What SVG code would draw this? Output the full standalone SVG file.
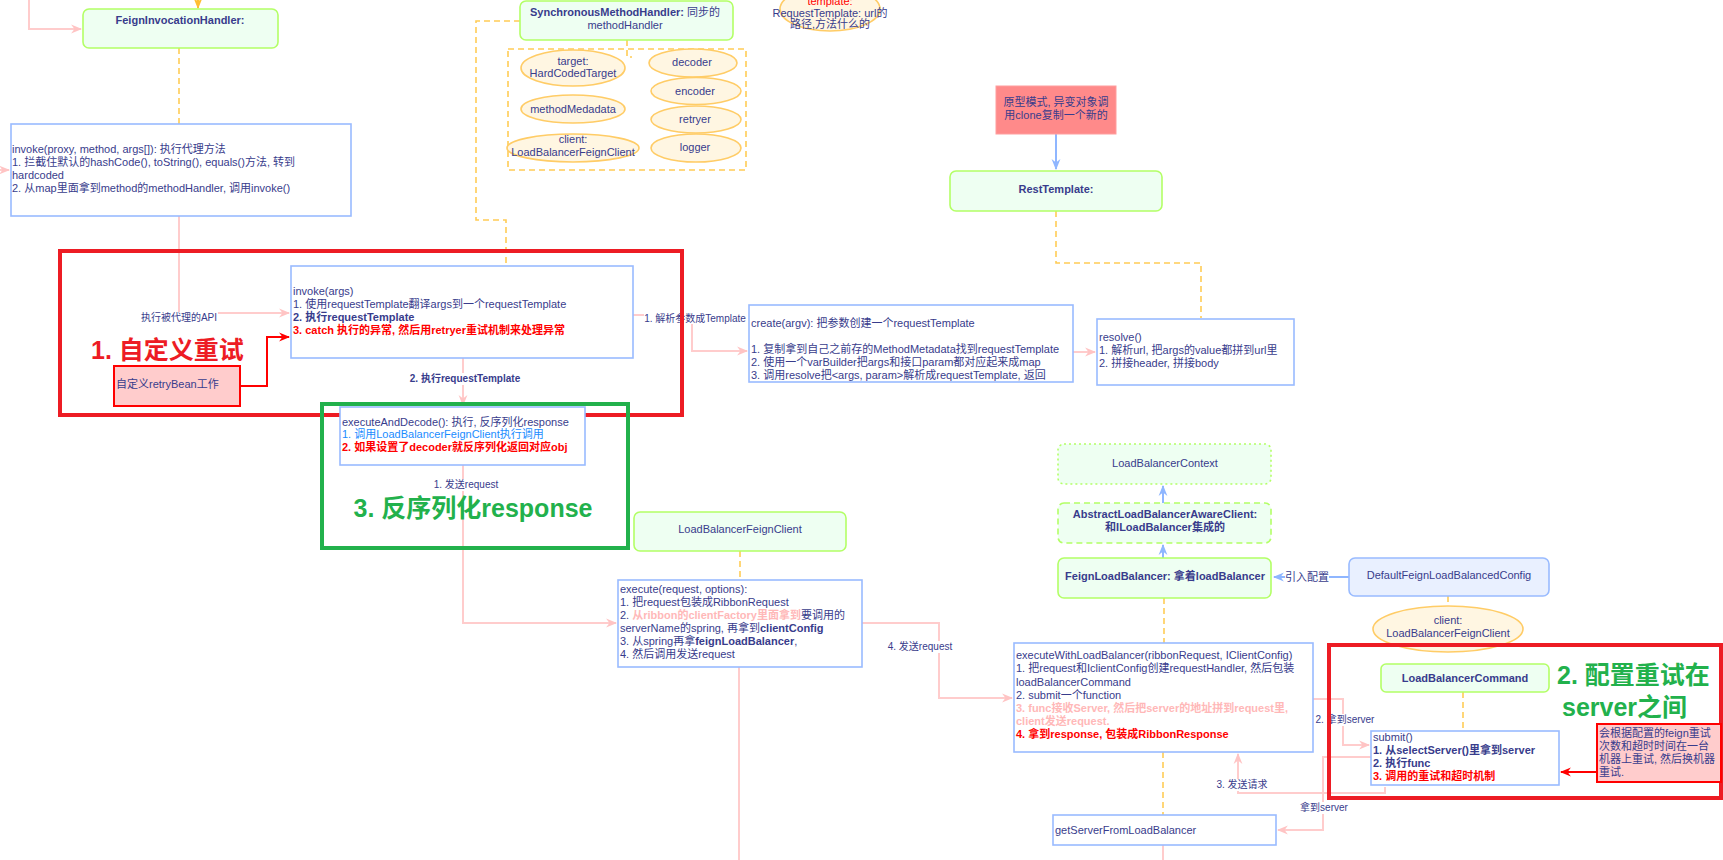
<svg xmlns="http://www.w3.org/2000/svg" width="1723" height="860" viewBox="0 0 1723 860">
<defs>
<marker id="mp" viewBox="0 0 10 10" refX="9" refY="5" markerWidth="11" markerHeight="11" markerUnits="userSpaceOnUse" orient="auto"><path d="M0,1 L10,5 L0,9 L3,5 z" fill="#FFC4C4"/></marker>
<marker id="mb" viewBox="0 0 10 10" refX="9" refY="5" markerWidth="11" markerHeight="11" markerUnits="userSpaceOnUse" orient="auto"><path d="M0,1 L10,5 L0,9 L3,5 z" fill="#8FB6FF"/></marker>
<marker id="mr" viewBox="0 0 10 10" refX="9" refY="5" markerWidth="11" markerHeight="11" markerUnits="userSpaceOnUse" orient="auto"><path d="M0,1 L10,5 L0,9 L3,5 z" fill="#FF0000"/></marker>
<marker id="mo" viewBox="0 0 10 10" refX="9" refY="5" markerWidth="11" markerHeight="11" markerUnits="userSpaceOnUse" orient="auto"><path d="M0,1 L10,5 L0,9 L3,5 z" fill="#FFBF33"/></marker>
</defs>
<style>
text{font-family:"Liberation Sans","Noto Sans CJK SC",sans-serif;font-size:11px;fill:#383C8C}
.b{font-weight:bold}
.red{fill:#FF0000}
.c{text-anchor:middle}
.lbl{font-size:10px}
.big{font-size:25px;font-weight:bold}
.gn{fill:#EEFFF2;stroke:#B3FF66;stroke-width:1.6}
.bl{fill:#FFFFFF;stroke:#99BBFF;stroke-width:1.6}
.el{fill:#FFF6E2;stroke:#FFCC66;stroke-width:1.6}
.dsh{fill:none;stroke:#FFCC55;stroke-width:1.6;stroke-dasharray:6 4}
.pk{fill:none;stroke:#FFCCCC;stroke-width:2}
.bw{fill:none;stroke:#8FB6FF;stroke-width:2}
.wb{fill:#FFFFFF}
.pinkb{fill:#FFB8B8;font-weight:bold}
</style>

<g id="connectors">
<path class="pk" d="M29,0 V29 H81" marker-end="url(#mp)"/>
<path class="pk" d="M0,170 H9" marker-end="url(#mp)"/>
<path d="M198,0 V8" fill="none" stroke="#FFBF33" stroke-width="2" marker-end="url(#mo)"/>
<path class="dsh" d="M179,48 V124"/>
<path class="dsh" d="M520,21 H476 V220 H506 V266"/>
<path class="dsh" d="M627,40 V57 H632"/>
<path class="pk" d="M179,216 V313 H289" marker-end="url(#mp)"/>
<rect class="wb" x="140" y="312" width="78" height="12"/>
<text class="lbl c" x="179" y="321">执行被代理的API</text>
<path d="M240,386 H267 V337 H289" fill="none" stroke="#FF0000" stroke-width="2" marker-end="url(#mr)"/>
<path class="pk" d="M633,315 H692 V351 H747" marker-end="url(#mp)"/>
<rect class="wb" x="644" y="312" width="103" height="12"/>
<text class="lbl c" x="695" y="322">1. 解析参数成Template</text>
<path class="pk" d="M1073,352 H1095" marker-end="url(#mp)"/>
<path class="bw" d="M1056,134 V169" marker-end="url(#mb)"/>
<path class="dsh" d="M1056,211 V263 H1201 V318"/>
<path class="pk" d="M463,358 V405" marker-end="url(#mp)"/>
<rect class="wb" x="410" y="373" width="111" height="12"/>
<text class="lbl b c" x="465" y="382">2. 执行requestTemplate</text>
<path class="pk" d="M463,465 V623 H616" marker-end="url(#mp)"/>
<rect class="wb" x="433" y="479" width="66" height="12"/>
<text class="lbl c" x="466" y="488">1. 发送request</text>
<path class="dsh" d="M740,551 V580"/>
<path class="pk" d="M739,667 V860"/>
<path class="pk" d="M862,623 H939 V698 H1012" marker-end="url(#mp)"/>
<rect class="wb" x="888" y="641" width="65" height="12"/>
<text class="lbl c" x="920" y="650">4. 发送request</text>
<path class="bw" d="M1163,503 V486" marker-end="url(#mb)"/>
<path class="bw" d="M1163,558 V545" marker-end="url(#mb)"/>
<path class="bw" d="M1349,577 H1274" marker-end="url(#mb)"/>
<rect class="wb" x="1285" y="571" width="44" height="13"/>
<text class="c" x="1307" y="581">引入配置</text>
<path class="dsh" d="M1448,596 V606"/>
<path class="dsh" d="M1164,598 V643"/>
<path class="dsh" d="M1163,752 V815"/>
<path class="pk" d="M1163,845 V860"/>
<path class="dsh" d="M1463,692 V731"/>
<path class="pk" d="M1313,699 H1343 V745 H1369" marker-end="url(#mp)"/>
<rect class="wb" x="1316" y="714" width="59" height="12"/>
<text class="lbl c" x="1345" y="723">2. 拿到server</text>
<path class="pk" d="M1385,787 V793 H1238 V754" marker-end="url(#mp)"/>
<rect class="wb" x="1216" y="779" width="52" height="12"/>
<text class="lbl c" x="1242" y="788">3. 发送请求</text>
<path class="pk" d="M1371,757 H1323 V830 H1278" marker-end="url(#mp)"/>
<rect class="wb" x="1300" y="802" width="48" height="12"/>
<text class="lbl c" x="1324" y="811">拿到server</text>
<path d="M1597,772 H1561" fill="none" stroke="#FF0000" stroke-width="2" marker-end="url(#mr)"/>
</g>

<g id="feignInvocationHandler">
<rect class="gn" x="83" y="9" width="195" height="39" rx="6"/>
<text class="b c" x="180" y="24">FeignInvocationHandler:</text>
</g>

<g id="invokeProxy">
<rect class="bl" x="11" y="124" width="340" height="92"/>
<text x="12" y="153">invoke(proxy, method, args[]): 执行代理方法</text>
<text x="12" y="166">1. 拦截住默认的hashCode(), toString(), equals()方法, 转到</text>
<text x="12" y="179">hardcoded</text>
<text x="12" y="192">2. 从map里面拿到method的methodHandler, 调用invoke()</text>
</g>

<g id="syncMethodHandler">
<rect class="gn" x="520" y="1" width="213" height="39" rx="6"/>
<text class="c" x="625" y="16"><tspan class="b">SynchronousMethodHandler:</tspan> 同步的</text>
<text class="c" x="625" y="29">methodHandler</text>
</g>

<g id="handlerFields">
<rect class="dsh" x="508" y="49" width="238" height="121"/>
<ellipse class="el" cx="573" cy="68" rx="52" ry="18"/>
<text class="c" x="573" y="65">target:</text>
<text class="c" x="573" y="77">HardCodedTarget</text>
<ellipse class="el" cx="573" cy="109" rx="52" ry="14"/>
<text class="c" x="573" y="113">methodMedadata</text>
<ellipse class="el" cx="573" cy="148" rx="66" ry="14"/>
<text class="c" x="573" y="143">client:</text>
<text class="c" x="573" y="156">LoadBalancerFeignClient</text>
<ellipse class="el" cx="693" cy="63" rx="44" ry="14"/>
<text class="c" x="692" y="66">decoder</text>
<ellipse class="el" cx="696" cy="91" rx="45" ry="13.5"/>
<text class="c" x="695" y="95">encoder</text>
<ellipse class="el" cx="696" cy="119.5" rx="45" ry="13.5"/>
<text class="c" x="695" y="123">retryer</text>
<ellipse class="el" cx="696" cy="148" rx="45" ry="14"/>
<text class="c" x="695" y="151">logger</text>
</g>

<g id="templateNote">
<ellipse class="el" cx="830" cy="9" rx="50" ry="22"/>
<text class="c red" x="830" y="5">template:</text>
<text class="c" x="830" y="17">RequestTemplate: url的</text>
<text class="c" x="830" y="28">路径,方法什么的</text>
</g>

<g id="prototypeNote">
<rect x="996" y="86" width="120" height="48" fill="#FF8A8A" stroke="#FF9E9E" stroke-width="1"/>
<text class="c" x="1056" y="106">原型模式, 异变对象调</text>
<text class="c" x="1056" y="119">用clone复制一个新的</text>
</g>

<g id="restTemplate">
<rect class="gn" x="950" y="171" width="212" height="40" rx="6"/>
<text class="b c" x="1056" y="193">RestTemplate:</text>
</g>

<g id="retryFrame">
<rect x="60" y="251" width="622" height="164" fill="none" stroke="#ED1C24" stroke-width="4"/>
<text class="big" x="91" y="359" style="fill:#ED1C24">1. 自定义重试</text>
</g>

<g id="customRetryBean">
<rect x="114" y="366" width="126" height="40" fill="#FFCCCC" stroke="#FF0000" stroke-width="2"/>
<text x="116" y="388">自定义retryBean工作</text>
</g>

<g id="invokeArgs">
<rect class="bl" x="291" y="266" width="342" height="92"/>
<text x="293" y="295">invoke(args)</text>
<text x="293" y="308">1. 使用requestTemplate翻译args到一个requestTemplate</text>
<text class="b" x="293" y="321">2. 执行requestTemplate</text>
<text class="b red" x="293" y="334">3. catch 执行的异常, 然后用retryer重试机制来处理异常</text>
</g>

<g id="createArgv">
<rect class="bl" x="749" y="305" width="324" height="77"/>
<text x="751" y="327">create(argv): 把参数创建一个requestTemplate</text>
<text x="751" y="353">1. 复制拿到自己之前存的MethodMetadata找到requestTemplate</text>
<text x="751" y="366">2. 使用一个varBuilder把args和接口param都对应起来成map</text>
<text x="751" y="379">3. 调用resolve把&lt;args, param&gt;解析成requestTemplate, 返回</text>
</g>

<g id="resolve">
<rect class="bl" x="1097" y="319" width="197" height="66"/>
<text x="1099" y="341">resolve()</text>
<text x="1099" y="354">1. 解析url, 把args的value都拼到url里</text>
<text x="1099" y="367">2. 拼接header, 拼接body</text>
</g>

<g id="executeAndDecode">
<rect class="bl" x="340" y="407" width="245" height="58"/>
<text x="342" y="426">executeAndDecode(): 执行, 反序列化response</text>
<text x="342" y="438" style="fill:#1A8CFF">1. 调用LoadBalancerFeignClient执行调用</text>
<text class="b red" x="342" y="451">2. 如果设置了decoder就反序列化返回对应obj</text>
</g>

<g id="decodeFrame">
<rect x="322" y="404" width="306" height="144" fill="none" stroke="#22B14C" stroke-width="4"/>
<text class="big c" x="473" y="517" style="fill:#22B14C">3. 反序列化response</text>
</g>

<g id="loadBalancerFeignClient">
<rect class="gn" x="634" y="512" width="212" height="39" rx="6"/>
<text class="c" x="740" y="533">LoadBalancerFeignClient</text>
</g>

<g id="execute">
<rect class="bl" x="618" y="580" width="244" height="87"/>
<text x="620" y="593">execute(request, options):</text>
<text x="620" y="606">1. 把request包装成RibbonRequest</text>
<text x="620" y="619">2. <tspan class="pinkb">从ribbon的clientFactory里面拿到</tspan>要调用的</text>
<text x="620" y="632">serverName的spring, 再拿到<tspan class="b">clientConfig</tspan></text>
<text x="620" y="645">3. 从spring再拿<tspan class="b">feignLoadBalancer</tspan>,</text>
<text x="620" y="658">4. 然后调用发送request</text>
</g>

<g id="loadBalancerContext">
<rect class="gn" x="1058" y="444" width="213" height="40" rx="6" style="stroke-dasharray:2 3"/>
<text class="c" x="1165" y="467">LoadBalancerContext</text>
</g>

<g id="abstractLoadBalancerAwareClient">
<rect class="gn" x="1058" y="503" width="213" height="40" rx="6" style="stroke-dasharray:6 4"/>
<text class="b c" x="1165" y="518">AbstractLoadBalancerAwareClient:</text>
<text class="b c" x="1165" y="531">和ILoadBalancer集成的</text>
</g>

<g id="feignLoadBalancer">
<rect class="gn" x="1058" y="558" width="213" height="40" rx="6"/>
<text class="b c" x="1165" y="580">FeignLoadBalancer: 拿着loadBalancer</text>
</g>

<g id="defaultConfig">
<rect x="1349" y="558" width="200" height="38" rx="6" fill="#E9F0FF" stroke="#99BBFF" stroke-width="1.6"/>
<text class="c" x="1449" y="579">DefaultFeignLoadBalancedConfig</text>
</g>

<g id="configClient">
<ellipse class="el" cx="1448" cy="629" rx="75" ry="23"/>
<text class="c" x="1448" y="624">client:</text>
<text class="c" x="1448" y="637">LoadBalancerFeignClient</text>
</g>

<g id="executeWithLoadBalancer">
<rect class="bl" x="1014" y="643" width="299" height="109"/>
<text x="1016" y="659">executeWithLoadBalancer(ribbonRequest, IClientConfig)</text>
<text x="1016" y="672">1. 把request和IclientConfig创建requestHandler, 然后包装</text>
<text x="1016" y="686">loadBalancerCommand</text>
<text x="1016" y="699">2. submit一个function</text>
<text class="pinkb" x="1016" y="712">3. func接收Server, 然后把server的地址拼到request里,</text>
<text class="pinkb" x="1016" y="725">client发送request.</text>
<text class="b red" x="1016" y="738">4. 拿到response, 包装成RibbonResponse</text>
</g>

<g id="getServerFromLoadBalancer">
<rect class="bl" x="1053" y="815" width="223" height="30"/>
<text x="1055" y="834">getServerFromLoadBalancer</text>
</g>

<g id="serverRetryFrame">
<rect x="1329" y="645" width="392" height="153" fill="none" stroke="#ED1C24" stroke-width="4"/>
<text class="big" x="1557" y="684" style="fill:#22B14C">2. 配置重试在</text>
<text class="big" x="1562" y="716" style="fill:#22B14C">server之间</text>
</g>

<g id="loadBalancerCommand">
<rect class="gn" x="1381" y="664" width="168" height="28" rx="5"/>
<text class="b c" x="1465" y="682">LoadBalancerCommand</text>
</g>

<g id="submit">
<rect class="bl" x="1371" y="731" width="188" height="54"/>
<text x="1373" y="741">submit()</text>
<text class="b" x="1373" y="754">1. 从selectServer()里拿到server</text>
<text class="b" x="1373" y="767">2. 执行func</text>
<text class="b red" x="1373" y="780">3. 调用的重试和超时机制</text>
</g>

<g id="retryNote">
<rect x="1597" y="724" width="124" height="58" fill="#FFCCCC" stroke="#FF0000" stroke-width="2"/>
<text x="1599" y="737">会根据配置的feign重试</text>
<text x="1599" y="750">次数和超时时间在一台</text>
<text x="1599" y="763">机器上重试, 然后换机器</text>
<text x="1599" y="776">重试.</text>
</g>
</svg>
